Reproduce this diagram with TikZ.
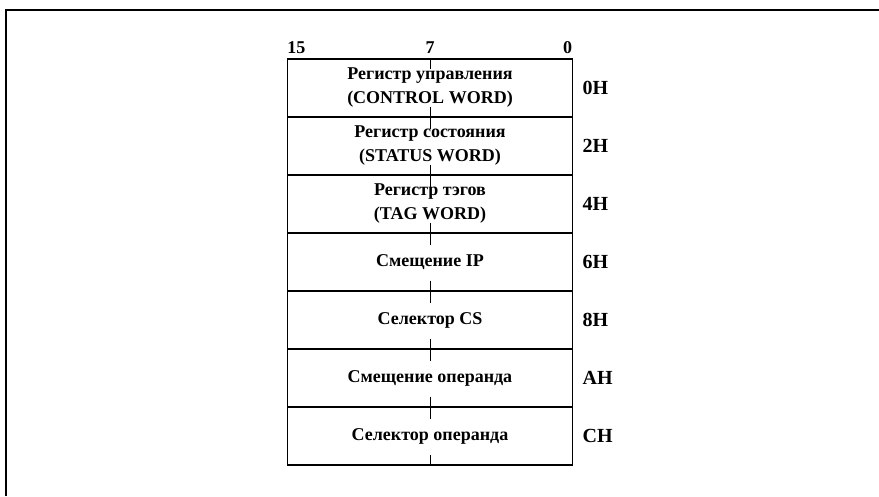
\documentclass[tikz,border=0pt]{standalone}
\usepackage{fontspec}
\setmainfont{Liberation Serif}
\begin{document}
\begin{tikzpicture}[x=1pt, y=-1pt,
    every node/.style={font=\fontsize{18}{24}\selectfont\bfseries},
    cell/.style={draw, line width=1.1pt, minimum width=285pt, minimum height=58pt, inner sep=0pt, align=center},
    addr/.style={anchor=west, font=\fontsize{20}{22}\selectfont\bfseries},
    bit/.style={anchor=base, font=\fontsize{18}{20}\selectfont\bfseries},
    tick/.style={line width=0.9pt}]
\useasboundingbox (0,0) rectangle (879,496);
\draw[line width=1.6pt] (6,496) -- (6,10) -- (879,10);
% register cells
\node[cell] (r0) at (430,88) {Регистр управления\\(CONTROL WORD)};
\node[cell] (r1) at (430,146) {Регистр состояния\\(STATUS WORD)};
\node[cell] (r2) at (430,204) {Регистр тэгов\\(TAG WORD)};
\node[cell] (r3) at (430,262) {Смещение IP};
\node[cell] (r4) at (430,320) {Селектор CS};
\node[cell] (r5) at (430,378) {Смещение операнда};
\node[cell] (r6) at (430,436) {Селектор операнда};
% bit numbers
\node[bit] (b15) at ([xshift=9.5pt, yshift=5pt]r0.north west) {15};
\node[bit] (b7) at ([yshift=5pt]r0.north) {7};
\node[bit] (b0) at ([xshift=-5.5pt, yshift=5pt]r0.north east) {0};
% offsets
\node[addr] (a0) at ([xshift=6pt]r0.east) {0H};
\node[addr] (a2) at ([xshift=6pt]r1.east) {2H};
\node[addr] (a4) at ([xshift=6pt]r2.east) {4H};
\node[addr] (a6) at ([xshift=6pt]r3.east) {6H};
\node[addr] (a8) at ([xshift=6pt]r4.east) {8H};
\node[addr] (aA) at ([xshift=6pt]r5.east) {AH};
\node[addr] (aC) at ([xshift=6pt]r6.east) {CH};
% byte ticks
\draw[tick] (r0.north) -- ++(0,11);
\foreach \n in {r0,r1,r2,r3,r4,r5}
  \draw[tick] ([yshift=11pt]\n.south) -- ([yshift=-11pt]\n.south);
\draw[tick] (r6.south) -- ++(0,-11);
\end{tikzpicture}
\end{document}
